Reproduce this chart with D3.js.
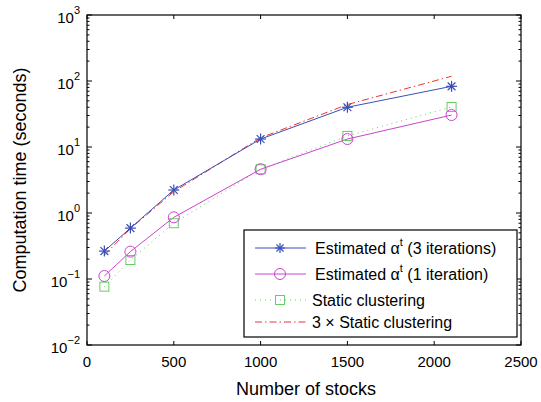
<!DOCTYPE html>
<html><head><meta charset="utf-8">
<script src="https://cdn.jsdelivr.net/npm/d3@7"></script>
<style>body{margin:0;background:#fff}svg{display:block}text{font-family:"Liberation Sans",Arial,sans-serif;fill:#000}</style>
</head><body><svg id="c" width="541" height="402"></svg>
<script>
const stocks = [100, 250, 500, 1000, 1500, 2100];
const est3 = [0.265, 0.59, 2.23, 13.2, 40, 83];
const est1 = [0.111, 0.26, 0.86, 4.6, 13.2, 30.5];
const staticC = [0.0766, 0.194, 0.70, 4.6, 14.7, 40.4];
const static3 = [0.23, 0.58, 2.1, 13.8, 44, 118];
const xTicks = [0, 500, 1000, 1500, 2000, 2500];
const yExps = [-2, -1, 0, 1, 2, 3];
const legendLabels = ["Estimated α|t| (3 iterations)", "Estimated α|t| (1 iteration)", "Static clustering", "3 × Static clustering"];

const svg = d3.select("#c");
const L = 87, R = 521, T = 15, B = 345;
const x = d3.scaleLinear().domain([0, 2500]).range([L, R]);
const y = d3.scaleLog().domain([1e-2, 1e3]).range([B, T]);

svg.append("rect").attr("x", L).attr("y", T).attr("width", R - L).attr("height", B - T)
  .attr("fill", "none").attr("stroke", "#000").attr("stroke-width", 1.2);

const g = svg.append("g").attr("stroke", "#000").attr("stroke-width", 1);
xTicks.forEach(v => {
  g.append("line").attr("x1", x(v)).attr("x2", x(v)).attr("y1", B).attr("y2", B - 4);
  g.append("line").attr("x1", x(v)).attr("x2", x(v)).attr("y1", T).attr("y2", T + 4);
});
yExps.forEach(e => {
  const v = Math.pow(10, e);
  g.append("line").attr("x1", L).attr("x2", L + 5).attr("y1", y(v)).attr("y2", y(v));
  g.append("line").attr("x1", R).attr("x2", R - 5).attr("y1", y(v)).attr("y2", y(v));
  if (e < 3) for (let k = 2; k <= 9; k++) {
    const m = k * v;
    g.append("line").attr("x1", L).attr("x2", L + 2.5).attr("y1", y(m)).attr("y2", y(m));
    g.append("line").attr("x1", R).attr("x2", R - 2.5).attr("y1", y(m)).attr("y2", y(m));
  }
});

xTicks.forEach(v => {
  svg.append("text").attr("x", x(v)).attr("y", 367).attr("text-anchor", "middle")
    .attr("font-size", 15).text(v);
});
yExps.forEach(e => {
  const t = svg.append("text").attr("x", 80).attr("y", y(Math.pow(10, e)) + 8)
    .attr("text-anchor", "end").attr("font-size", 15);
  t.append("tspan").text("10");
  t.append("tspan").attr("dy", -9).attr("font-size", 11).text(e < 0 ? "−" + (-e) : e);
});

svg.append("text").attr("x", 306).attr("y", 395).attr("text-anchor", "middle")
  .attr("font-size", 18).text("Number of stocks");
svg.append("text").attr("transform", "translate(26," + ((T + B) / 2) + ") rotate(-90)")
  .attr("text-anchor", "middle").attr("font-size", 18).text("Computation time (seconds)");

const line = d3.line().x(d => x(d[0])).y(d => y(d[1]));
const pts = arr => stocks.map((s, i) => [s, arr[i]]);

const colors = {blue: "#3a4fb8", mag: "#cc44cc", green: "#66cc66", red: "#ee3333"};

function star(sel, cx, cy, r) {
  const gg = sel.append("g").attr("stroke", colors.blue).attr("stroke-width", 1.2);
  for (let a = 0; a < 4; a++) {
    const ang = a * Math.PI / 4;
    gg.append("line").attr("x1", cx - r * Math.cos(ang)).attr("y1", cy - r * Math.sin(ang))
      .attr("x2", cx + r * Math.cos(ang)).attr("y2", cy + r * Math.sin(ang));
  }
}
function circ(sel, cx, cy) {
  sel.append("circle").attr("cx", cx).attr("cy", cy).attr("r", 5.5)
    .attr("fill", "none").attr("stroke", colors.mag).attr("stroke-width", 1);
}
function sq(sel, cx, cy) {
  sel.append("rect").attr("x", cx - 4.5).attr("y", cy - 4.5).attr("width", 9).attr("height", 9)
    .attr("fill", "none").attr("stroke", colors.green).attr("stroke-width", 1);
}

const plot = svg.append("g");
plot.append("path").attr("d", line(pts(static3))).attr("fill", "none")
  .attr("stroke", colors.red).attr("stroke-width", 1).attr("stroke-dasharray", "7,3,1.5,3");
plot.append("path").attr("d", line(pts(staticC))).attr("fill", "none")
  .attr("stroke", colors.green).attr("stroke-width", 1).attr("stroke-dasharray", "1,4");
plot.append("path").attr("d", line(pts(est1))).attr("fill", "none")
  .attr("stroke", colors.mag).attr("stroke-width", 1);
plot.append("path").attr("d", line(pts(est3))).attr("fill", "none")
  .attr("stroke", colors.blue).attr("stroke-width", 1);
pts(staticC).forEach(d => sq(plot, x(d[0]), y(d[1])));
pts(est1).forEach(d => circ(plot, x(d[0]), y(d[1])));
pts(est3).forEach(d => star(plot, x(d[0]), y(d[1]), 5.5));

const lg = svg.append("g");
lg.append("rect").attr("x", 244).attr("y", 230).attr("width", 273).attr("height", 107)
  .attr("fill", "#fff").attr("stroke", "#000").attr("stroke-width", 1.2);
const rowsY = [248, 274, 300, 322];
const styles = [
  {c: colors.blue, dash: null}, {c: colors.mag, dash: null},
  {c: colors.green, dash: "1,4"}, {c: colors.red, dash: "7,3,1.5,3"}
];
rowsY.forEach((ry, i) => {
  const ln = lg.append("line").attr("x1", 255).attr("x2", 306).attr("y1", ry).attr("y2", ry)
    .attr("stroke", styles[i].c).attr("stroke-width", 1);
  if (styles[i].dash) ln.attr("stroke-dasharray", styles[i].dash);
  if (i === 0) star(lg, 280, ry, 5);
  if (i === 1) circ(lg, 280, ry);
  if (i === 2) sq(lg, 280, ry);
  const parts = legendLabels[i].split("|");
  const t = lg.append("text").attr("x", i < 2 ? 315 : 312).attr("y", ry + 6).attr("font-size", 16);
  if (parts.length === 3) {
    t.append("tspan").text(parts[0]);
    t.append("tspan").attr("dy", -8).attr("font-size", 11).text(parts[1]);
    t.append("tspan").attr("dy", 8).text(parts[2]);
  } else t.text(parts[0]);
});
</script></body></html>
